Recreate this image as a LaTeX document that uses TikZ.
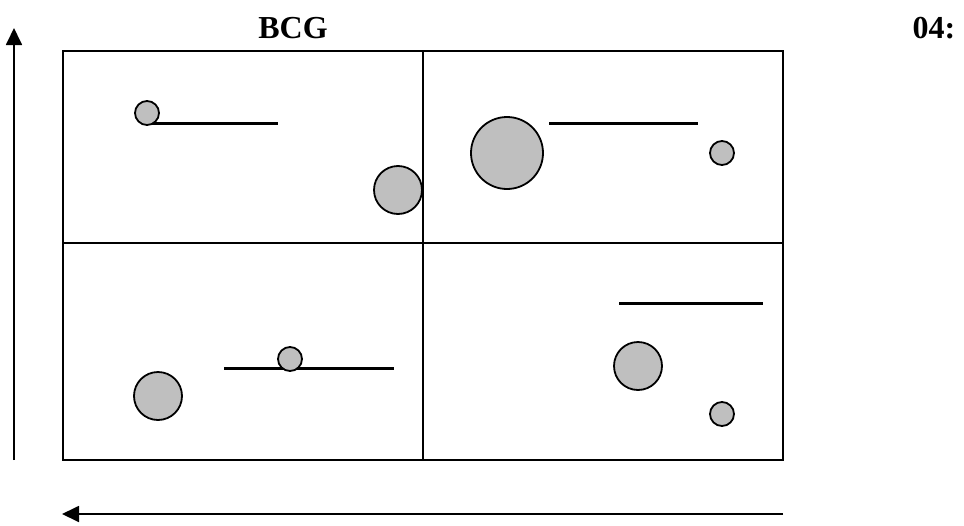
\documentclass[tikz,border=0pt]{standalone}
\usepackage{fontspec}
\setmainfont{Liberation Serif}
\usetikzlibrary{arrows.meta}
\begin{document}
\begin{tikzpicture}[x=1pt,y=-1pt,
    blase/.style={circle,draw,line width=1.8pt,fill=gray!50,inner sep=0pt},
    klein/.style={blase,minimum size=24pt},
    mittel/.style={blase,minimum size=48pt},
    gross/.style={blase,minimum size=72pt},
    strich/.style={line width=3pt},
    achse/.style={line width=1.8pt,-{Triangle[width=16pt,length=17pt]}},
    titel/.style={font=\fontsize{32}{36}\selectfont\bfseries}]
    \useasboundingbox (0,0) rectangle (964,525);

    % Matrix
    \draw[line width=1.8pt] (63,51) rectangle (783,460);
    \draw[line width=1.8pt] (423,51) -- (423,460);
    \draw[line width=1.8pt] (63,243) -- (783,243);

    % Titel
    \node[titel] (titel) at (293,28) {BCG};
    \node[titel] (nummer) at (934,28) {04:};

    % Achsen
    \coordinate (yfuss) at (14,460);
    \coordinate (yspitze) at (14,28);
    \coordinate (xfuss) at (783,514);
    \coordinate (xspitze) at (62,514);
    \draw[achse] (yfuss) -- (yspitze);
    \draw[achse] (xfuss) -- (xspitze);

    % Beschriftungslinien
    \draw[strich] (152,123) -- (278,123);
    \draw[strich] (549,123) -- (698,123);
    \draw[strich] (224,368) -- (394,368);
    \draw[strich] (619,303) -- (763,303);

    % Kreise
    \node[klein] (k1) at (147,113) {};
    \node[mittel] (k2) at (398,190) {};
    \node[gross] (k3) at (507,153) {};
    \node[klein] (k4) at (722,153) {};
    \node[mittel] (k5) at (158,396) {};
    \node[klein] (k6) at (290,359) {};
    \node[mittel] (k7) at (638,366) {};
    \node[klein] (k8) at (722,414) {};
\end{tikzpicture}
\end{document}
